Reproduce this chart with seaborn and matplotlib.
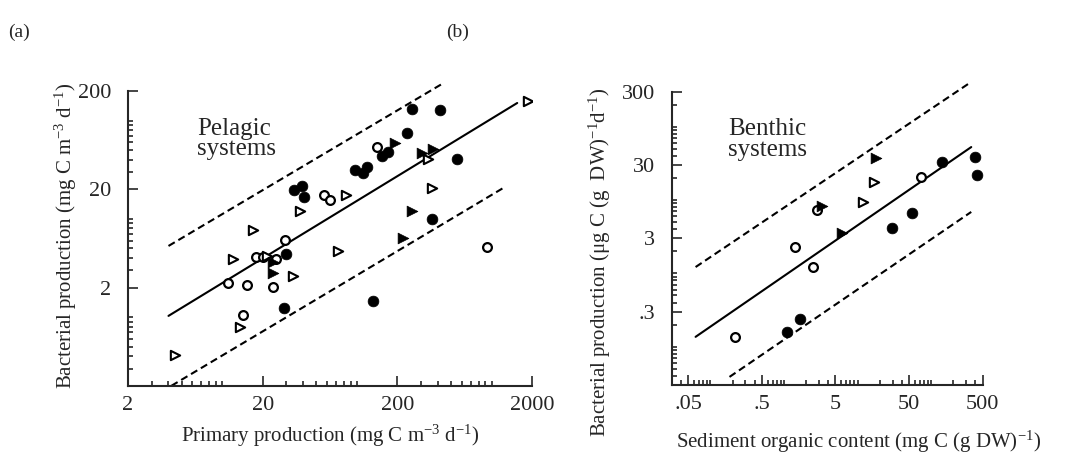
import matplotlib
matplotlib.use("Agg")
import matplotlib.pyplot as plt
import seaborn as sns
from matplotlib.ticker import LogLocator, NullFormatter

# ---- panel (a): pelagic systems ----
a_fc_x = [34, 39, 40.5, 97, 111, 119, 155, 170, 236, 257, 414, 553, 361, 132, 29, 30]
a_fc_y = [19.7, 21.7, 16.7, 31.5, 29.4, 33.8, 44, 48, 75, 131, 129, 40.7, 10, 1.47, 1.24, 4.4]
a_oc_x = [141, 57, 63, 29.3, 17.8, 20.1, 25, 11, 15.3, 23.8, 14.3, 925]
a_oc_y = [54, 17.5, 15.6, 6.1, 4.1, 4.1, 3.9, 2.2, 2.1, 2.03, 1.05, 5.2]
a_ot_x = [37.8, 16.9, 72, 83, 12, 21.5, 33.6, 13.6, 4.5, 337, 361, 1866]
a_ot_y = [12, 7.7, 4.7, 17.5, 3.9, 4.2, 2.6, 0.80, 0.41, 40.7, 20.7, 158]
a_ft_x = [23.8, 23.8, 192, 305, 367, 257, 220]
a_ft_y = [3.6, 2.8, 59, 47, 51.5, 12.1, 6.4]

a_fit_x, a_fit_y = [4, 1550], [1.03, 151]
a_up_x, a_up_y = [4, 440], [5.3, 241]
a_lo_x, a_lo_y = [4.2, 1220], [0.2, 20.6]

# ---- panel (b): benthic systems ----
b_fc_x = [142, 397, 423, 55.8, 29, 1.66, 1.11]
b_fc_y = [33.2, 38.8, 22.1, 6.7, 4.2, 0.239, 0.159]
b_oc_x = [72, 2.82, 1.42, 2.49, 0.213]
b_oc_y = [20.8, 7.3, 2.3, 1.22, 0.136]
b_ot_x = [16.6, 11.8]
b_ot_y = [17.7, 9.4]
b_ft_x = [17.7, 3.3, 6.1]
b_ft_y = [37.7, 8.3, 3.6]

b_fit_x, b_fit_y = [0.063, 351], [0.136, 53]
b_up_x, b_up_y = [0.063, 351], [1.22, 411]
b_lo_x, b_lo_y = [0.182, 351], [0.0386, 6.9]

sns.set_style("ticks")
plt.rcParams["font.family"] = ["Liberation Serif", "DejaVu Serif"]
plt.rcParams["mathtext.fontset"] = "custom"
plt.rcParams["mathtext.rm"] = "Liberation Serif"
plt.rcParams["mathtext.it"] = "Liberation Serif:italic"

fig = plt.figure(figsize=(10.75, 4.55), dpi=100)
ax1 = fig.add_axes([0.119, 0.152, 0.376, 0.648])
ax2 = fig.add_axes([0.625, 0.154, 0.289, 0.644])


def draw_points(ax, fcx, fcy, ocx, ocy, otx, oty, ftx, fty):
    sns.scatterplot(x=fcx, y=fcy, ax=ax, marker="o", s=60, color="black",
                    edgecolor="black", linewidth=0.5, zorder=3)
    sns.scatterplot(x=ocx, y=ocy, ax=ax, marker="o", s=40, color="white",
                    edgecolor="black", linewidth=1.6, zorder=3)
    sns.scatterplot(x=otx, y=oty, ax=ax, marker=">", s=45, color="white",
                    edgecolor="black", linewidth=1.5, zorder=3)
    sns.scatterplot(x=ftx, y=fty, ax=ax, marker=">", s=60, color="black",
                    edgecolor="black", linewidth=0.5, zorder=3)


def draw_lines(ax, fit, up, lo):
    sns.lineplot(x=fit[0], y=fit[1], ax=ax, color="black", linewidth=1.5)
    for xs, ys in (up, lo):
        ln = ax.plot(xs, ys, color="black", linewidth=1.5, linestyle=(0, (3.5, 2)))
        ln[0].set_clip_on(False)


def style_axes(ax):
    ax.set_xscale("log")
    ax.set_yscale("log")
    sns.despine(ax=ax)
    for s in ("left", "bottom"):
        ax.spines[s].set_linewidth(1.5)
    ax.tick_params(which="both", direction="in", labelsize=16, width=1.2)
    ax.tick_params(which="major", length=7)
    ax.tick_params(which="minor", length=3.5)
    ax.tick_params(axis="y", which="major", pad=12)
    ax.tick_params(axis="x", which="major", pad=7)
    for axis in (ax.xaxis, ax.yaxis):
        axis.set_minor_locator(LogLocator(base=10, subs=range(1, 10), numticks=20))
        axis.set_minor_formatter(NullFormatter())


draw_lines(ax1, (a_fit_x, a_fit_y), (a_up_x, a_up_y), (a_lo_x, a_lo_y))
draw_points(ax1, a_fc_x, a_fc_y, a_oc_x, a_oc_y, a_ot_x, a_ot_y, a_ft_x, a_ft_y)
style_axes(ax1)
ax1.set_xlim(2, 2000)
ax1.set_ylim(0.2, 200)
ax1.set_xticks([2, 20, 200, 2000], ["2", "20", "200", "2000"])
ax1.set_yticks([2, 20, 200], ["2", "20", "200"])
ax1.set_xlabel("Primary production (mg C m$^{\\mathrm{-3}}$ d$^{\\mathrm{-1}}$)", fontsize=15, labelpad=6)
ax1.set_ylabel("Bacterial production (mg C m$^{\\mathrm{-3}}$ d$^{\\mathrm{-1}}$)", fontsize=15)
ax1.yaxis.set_label_coords(-0.12, 0.51)
ax1.text(0.172, 0.91, "Pelagic\nsystems", transform=ax1.transAxes, fontsize=18,
         va="top", ha="left", linespacing=0.9)

draw_lines(ax2, (b_fit_x, b_fit_y), (b_up_x, b_up_y), (b_lo_x, b_lo_y))
draw_points(ax2, b_fc_x, b_fc_y, b_oc_x, b_oc_y, b_ot_x, b_ot_y, b_ft_x, b_ft_y)
style_axes(ax2)
ax2.set_xlim(0.03, 500)
ax2.set_ylim(0.03, 300)
ax2.set_xticks([0.05, 0.5, 5, 50, 500], [".05", ".5", "5", "50", "500"])
ax2.set_yticks([0.3, 3, 30, 300], [".3", "3", "30", "300"])
ax2.set_xlabel("Sediment organic content (mg C (g DW)$^{\\mathrm{-1}}$)", fontsize=15)
ax2.xaxis.set_label_coords(0.6, -0.15)
ax2.set_ylabel("Bacterial production (\u03bcg C (g  DW)$^{\\mathrm{-1}}$d$^{\\mathrm{-1}}$)", fontsize=15)
ax2.yaxis.set_label_coords(-0.19, 0.42)
ax2.text(0.18, 0.91, "Benthic\nsystems", transform=ax2.transAxes, fontsize=18,
         va="top", ha="left", linespacing=0.9)

fig.text(0.008, 0.93, "(a)", fontsize=14, ha="left", va="center")
fig.text(0.415, 0.93, "(b)", fontsize=14, ha="left", va="center")

fig.savefig("out.png", dpi=100)
